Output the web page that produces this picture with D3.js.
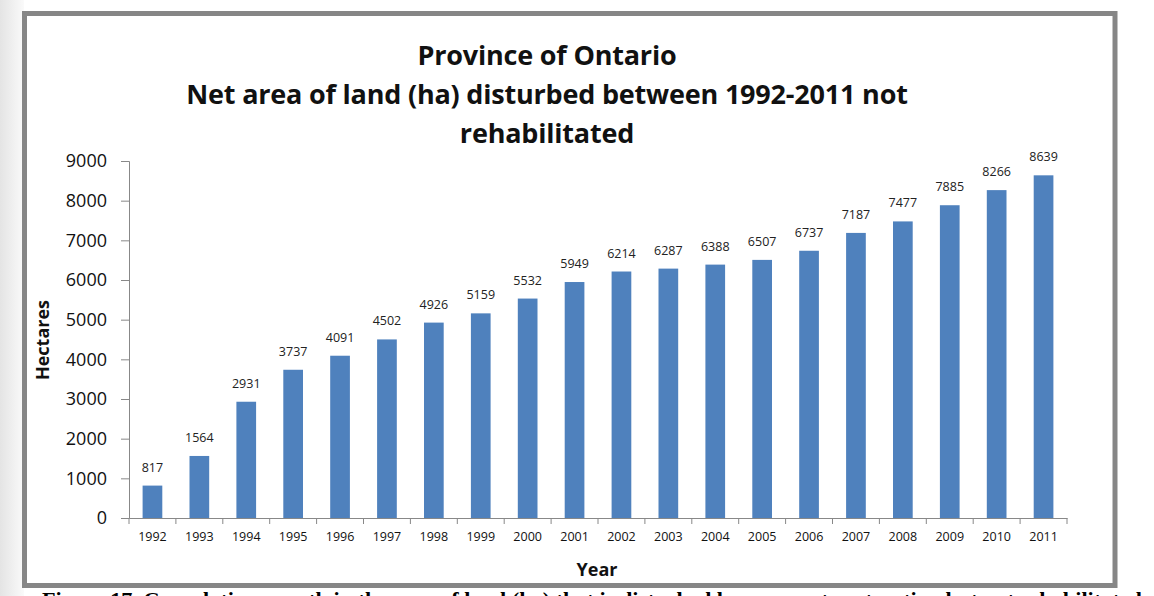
<!DOCTYPE html>
<html><head><meta charset="utf-8">
<script src="https://cdn.jsdelivr.net/npm/d3@7"></script>
<style>
html,body{margin:0;padding:0;background:#fff;overflow:hidden}
</style></head>
<body><svg id="c" width="1154" height="596"></svg>
<script>
const years = ["1992","1993","1994","1995","1996","1997","1998","1999","2000","2001","2002","2003","2004","2005","2006","2007","2008","2009","2010","2011"];
const hectares = [817,1564,2931,3737,4091,4502,4926,5159,5532,5949,6214,6287,6388,6507,6737,7187,7477,7885,8266,8639];
const yTicks = [0,1000,2000,3000,4000,5000,6000,7000,8000,9000];
const titleLines = ["Province of Ontario","Net area of land (ha) disturbed between 1992-2011 not","rehabilitated"];
const caption = "Figure 17. Cumulative growth in the area of land (ha) that is disturbed by aggregate extraction but not rehabilitated";

const SANS = "'Open Sans',Lato,sans-serif";
const svg = d3.select("#c");
const defs = svg.append("defs");
const g1 = defs.append("linearGradient").attr("id","lg").attr("x1","0").attr("x2","1");
g1.append("stop").attr("offset","0").attr("stop-color","#e4e4e4");
g1.append("stop").attr("offset","1").attr("stop-color","#fafafa");
svg.append("rect").attr("x",0).attr("y",0).attr("width",24).attr("height",596).attr("fill","url(#lg)");

// frame
svg.append("rect").attr("x",24.5).attr("y",13.5).attr("width",1090.5).attr("height",572).attr("fill","#fff")
  .attr("stroke","#868686").attr("stroke-width",5);

const x = d3.scaleBand().domain(years).range([129,1067]).paddingInner(0.58).paddingOuter(0.29);
const y = d3.scaleLinear().domain([0,9000]).range([518,161]);

// title
svg.append("g").selectAll("text").data(titleLines).join("text")
  .attr("x",547).attr("y",(d,i)=>65+i*39).attr("text-anchor","middle")
  .style("font-family",SANS).attr("font-size",27).attr("font-weight","bold").attr("fill","#111")
  .attr("letter-spacing",-0.2).text(d=>d);

// bars
svg.append("g").selectAll("rect").data(hectares).join("rect")
  .attr("x",(d,i)=>x(years[i])).attr("width",x.bandwidth())
  .attr("y",d=>y(d)).attr("height",d=>y(0)-y(d)).attr("fill","#4f81bd");

// labels
svg.append("g").selectAll("text").data(hectares).join("text")
  .attr("x",(d,i)=>x(years[i])+x.bandwidth()/2).attr("y",d=>y(d)-14)
  .attr("text-anchor","middle").style("font-family",SANS).attr("font-size",12.5).attr("fill","#222").text(d=>d);

// y axis
const ya = svg.append("g").attr("transform","translate(129,0)")
  .call(d3.axisLeft(y).tickValues(yTicks).tickSize(8).tickPadding(14).tickFormat(d3.format("d")));
ya.select(".domain").attr("stroke","#888");
ya.selectAll(".tick line").attr("stroke","#888");
ya.selectAll(".tick text").attr("font-size",18).attr("fill","#111").style("font-family",SANS);

// x axis
const xa = svg.append("g").attr("transform","translate(0,518)")
  .call(d3.axisBottom(x).tickSize(0).tickPadding(14));
xa.select(".domain").attr("stroke","#888");
xa.selectAll(".tick text").attr("font-size",12.5).attr("fill","#111").style("font-family",SANS);
const bounds = d3.range(years.length+1).map(i=>129+i*(938/years.length));
svg.append("g").selectAll("line").data(bounds).join("line")
  .attr("x1",d=>d).attr("x2",d=>d).attr("y1",518).attr("y2",524).attr("stroke","#888");

// axis titles
svg.append("text").attr("x",597).attr("y",576).attr("text-anchor","middle").style("font-family",SANS)
  .attr("font-size",18).attr("font-weight","bold").attr("fill","#111").text("Year");
svg.append("text").attr("transform","translate(49,340) rotate(-90)").attr("text-anchor","middle").style("font-family",SANS)
  .attr("font-size",18).attr("font-weight","bold").attr("fill","#111").text("Hectares");

// caption
svg.append("text").attr("x",42).attr("y",607).style("font-family","'Liberation Serif',serif")
  .attr("font-size",22).attr("font-weight","bold").attr("fill","#000")
  .attr("textLength",1100).attr("lengthAdjust","spacingAndGlyphs").text(caption);
</script></body></html>
